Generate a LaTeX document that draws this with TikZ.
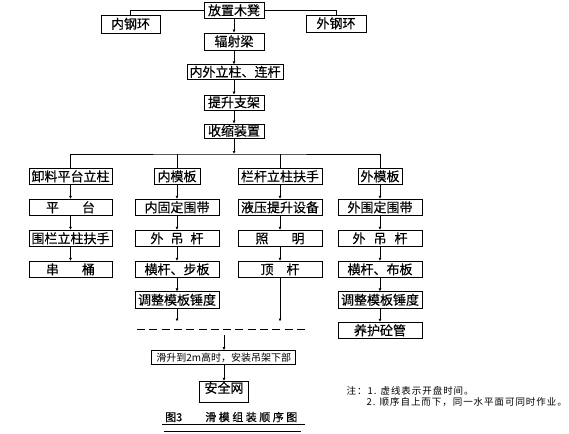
\documentclass[tikz,border=0pt]{standalone}
\usepackage{fontspec}
\setmainfont{Noto Sans CJK SC}[FakeBold=0.4]
\newfontfamily\notefont[LetterSpace=10]{Noto Sans CJK SC}
\newfontfamily\smallfont{Noto Sans CJK SC}
\usetikzlibrary{arrows.meta}
\begin{document}
\begin{tikzpicture}[x=1pt,y=-1pt,
  box/.style={draw,line width=0.9pt,inner sep=0pt,font=\fontsize{13}{13}\selectfont,
    text height=10.5pt,text depth=1pt,minimum height=16.5pt},
  wbox/.style={box,minimum width=84pt},
  ln/.style={line width=0.8pt},
  arr/.style={ln,-{Latex[length=3pt,width=3pt]}}]
\useasboundingbox (0,0) rectangle (569,433);
% top chain
\node[box,minimum width=60pt,minimum height=15.5pt] (fz) at (234,10.5) {放置木凳};
\node[box,minimum width=59pt,minimum height=18pt] (ngh) at (130.5,24) {内钢环};
\node[box,minimum width=60pt,minimum height=17pt] (wgh) at (336,23.5) {外钢环};
\node[box,minimum width=60pt,minimum height=17pt] (fsl) at (234,41.5) {辐射梁};
\node[box,minimum width=96pt,minimum height=14.5pt] (nwl) at (235,72) {内外立柱、连杆};
\node[box,minimum width=60pt,minimum height=15pt] (tsj) at (234,102.5) {提升支架};
\node[box,minimum width=60pt,minimum height=14pt] (ssz) at (234,131) {收缩装置};
\draw[ln] (fz.west) -| (ngh.north);
\draw[ln] (fz.east) -| (wgh.north);
\draw[arr] (fz) -- (fsl);
\draw[arr] (fsl.south) -- (fsl.south |- nwl.north);
\draw[arr] (nwl.south -| tsj.north) -- (tsj.north);
\draw[arr] (tsj) -- (ssz);
% column 1
\node[wbox,minimum width=83pt] (a1) at (70.5,176.5) {卸料平台立柱};
\node[wbox,minimum width=83pt] (a2) at (70.5,207.5) {平\hspace{23pt}台};
\node[wbox,minimum width=83pt] (a3) at (70.5,238.5) {围栏立柱扶手};
\node[wbox,minimum width=83pt] (a4) at (70.5,269.5) {串\hspace{23pt}桶};
% column 2
\node[box,minimum width=46pt] (b1) at (177,176.5) {内模板};
\node[wbox] (b2) at (177,207.5) {内固定围带};
\node[wbox] (b3) at (177,238.5) {外\hspace{7pt}吊\hspace{7pt}杆};
\node[wbox] (b4) at (177,269.5) {横杆、步板};
\node[wbox] (b5) at (177,300) {调整模板锤度};
% column 3
\node[wbox] (c1) at (280,176.5) {栏杆立柱扶手};
\node[wbox] (c2) at (280,207.5) {液压提升设备};
\node[wbox] (c3) at (280,238.5) {照\hspace{23pt}明};
\node[wbox] (c4) at (280,269.5) {顶\hspace{13pt}杆};
% column 4
\node[box,minimum width=44pt] (d1) at (380,176.5) {外模板};
\node[wbox] (d2) at (380,207.5) {外围定围带};
\node[wbox] (d3) at (380,238.5) {外\hspace{8pt}吊\hspace{8pt}杆};
\node[wbox] (d4) at (380,269.5) {横杆、布板};
\node[wbox] (d5) at (380,300) {调整模板锤度};
\node[wbox] (d6) at (380,330.5) {养护砼管};
% distribution
\coordinate (j) at (234,154);
\draw[arr] (ssz) -- (j);
\draw[ln] (a1.north) |- (j) -| (d1.north);
\draw[ln] (b1.north) -- (b1.north |- j);
\draw[ln] (c1.north) -- (c1.north |- j);
\foreach \p/\q in {a1/a2,a2/a3,a3/a4,b1/b2,b2/b3,b3/b4,b4/b5,c1/c2,c2/c3,c3/c4,d1/d2,d2/d3,d3/d4,d4/d5,d5/d6}
  \draw[arr] (\p) -- (\q);
\coordinate (be) at (177,321.5);
\coordinate (ce) at (280,321.5);
\draw[arr] (b5) -- (be);
\draw[arr] (c4) -- (ce);
% dashed line
\coordinate (dl) at (137,329.5);
\coordinate (dr) at (306,329.5);
\draw[ln,dash pattern=on 8pt off 4.3pt] (dl) -- (dr);
% lower chain
\coordinate (ds) at (224,335);
\node[draw,line width=0.9pt,inner sep=0pt,minimum width=144pt,minimum height=14pt,
  font=\smallfont\fontsize{10}{10}\selectfont,text height=8pt,text depth=1pt] (hs) at (223.7,357.5) {滑升到2m高时，安装吊架下部};
\node[draw,line width=0.9pt,inner sep=0pt,minimum width=49.5pt,
  font=\fontsize{13}{13}\selectfont,text height=11.6pt,text depth=9.9pt] (aqw) at (224,392) {安全网};
\draw[arr] (ds) -- (hs.north -| ds);
\draw[arr] (hs.south -| aqw.north) -- (aqw.north);
% caption
\node[anchor=west,inner sep=0pt,font=\fontsize{11}{11}\selectfont] (cap) at (165,417)
  {图3\hspace{23pt}滑\hspace{2.5pt}模\hspace{2.5pt}组\hspace{2.5pt}装\hspace{2.5pt}顺\hspace{2.5pt}序\hspace{2.5pt}图};
\coordinate (u1l) at (162,424.5); \coordinate (u1r) at (305,424.5);
\coordinate (u2l) at (164,431.5); \coordinate (u2r) at (301,431.5);
\draw[line width=0.7pt] (u1l) -- (u1r);
\draw[line width=1pt] (u2l) -- (u2r);
% note
\node[anchor=west,inner sep=0pt,font=\notefont\fontsize{9.5}{9.5}\selectfont] (n1) at (346.5,391) {注：1. 虚线表示开盘时间。};
\node[anchor=west,inner sep=0pt,font=\notefont\fontsize{9.5}{9.5}\selectfont] (n2) at (366.5,401.5) {2. 顺序自上而下，同一水平面可同时作业。};
\end{tikzpicture}
\end{document}
